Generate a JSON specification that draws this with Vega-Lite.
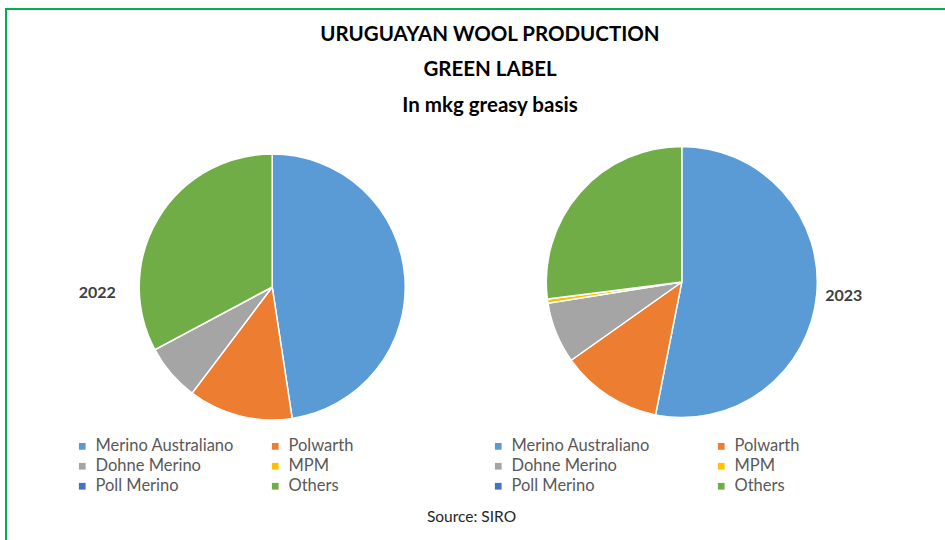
{
  "$schema": "https://vega.github.io/schema/vega-lite/v6.json",
  "width": 945,
  "height": 540,
  "autosize": {"type": "fit", "contains": "padding"},
  "padding": {"left": 6, "top": 9, "right": -3, "bottom": -3},
  "background": "white",
  "title": {
    "text": ["URUGUAYAN WOOL PRODUCTION", "GREEN LABEL", "In mkg greasy basis"],
    "font": "Lato",
    "fontSize": 20.5,
    "fontWeight": "bold",
    "color": "#000000",
    "lineHeight": 35.5,
    "anchor": "middle",
    "offset": -107,
    "dx": 13
  },
  "config": {
    "view": {"stroke": "#00B050", "strokeWidth": 2},
    "font": "Lato"
  },
  "data": {
    "values": [
      {"year": 2022, "breed": "Merino Australiano", "order": 1, "value": 47.6},
      {"year": 2022, "breed": "Polwarth", "order": 2, "value": 12.7},
      {"year": 2022, "breed": "Dohne Merino", "order": 3, "value": 6.9},
      {"year": 2022, "breed": "MPM", "order": 4, "value": 0},
      {"year": 2022, "breed": "Poll Merino", "order": 5, "value": 0},
      {"year": 2022, "breed": "Others", "order": 6, "value": 32.8},
      {"year": 2023, "breed": "Merino Australiano", "order": 1, "value": 53.1},
      {"year": 2023, "breed": "Polwarth", "order": 2, "value": 12.1},
      {"year": 2023, "breed": "Dohne Merino", "order": 3, "value": 7.3},
      {"year": 2023, "breed": "MPM", "order": 4, "value": 0.5},
      {"year": 2023, "breed": "Poll Merino", "order": 5, "value": 0},
      {"year": 2023, "breed": "Others", "order": 6, "value": 27.0}
    ]
  },
  "encoding": {
    "x": {
      "field": "year",
      "type": "ordinal",
      "scale": {"type": "point", "domain": [2022, 2023], "padding": 0.65, "align": 0.5},
      "axis": {
        "title": "Source: SIRO",
        "labels": false,
        "ticks": false,
        "domain": false,
        "grid": false,
        "titleY": -27,
        "titleX": 465,
        "titleAlign": "center",
        "titleBaseline": "middle",
        "titleFont": "Lato",
        "titleFontSize": 15.5,
        "titleFontWeight": "normal",
        "titleColor": "#262626"
      }
    }
  },
  "layer": [
    {
      "transform": [{"filter": "datum.year == 2022"}],
      "mark": {"type": "arc", "outerRadius": 133, "stroke": "white", "strokeWidth": 1.5, "yOffset": 11},
      "encoding": {
        "theta": {"field": "value", "type": "quantitative", "stack": true},
        "order": {"field": "order", "type": "quantitative"},
        "color": {
          "field": "breed",
          "type": "nominal",
          "scale": {
            "domain": ["Merino Australiano", "Polwarth", "Dohne Merino", "MPM", "Poll Merino", "Others"],
            "range": ["#5B9BD5", "#ED7D31", "#A5A5A5", "#FFC000", "#4472C4", "#70AD47"]
          },
          "legend": {
            "orient": "none",
            "direction": "horizontal",
            "legendX": 68,
            "legendY": 429,
            "padding": 0,
            "columns": 2,
            "columnPadding": 33,
            "rowPadding": 3,
            "title": null,
            "symbolType": "square",
            "symbolSize": 45,
            "symbolStrokeWidth": 0,
            "labelFont": "Lato",
            "labelFontSize": 16.5,
            "labelColor": "#595959",
            "labelOffset": 5
          }
        }
      }
    },
    {
      "transform": [{"filter": "datum.year == 2023"}],
      "mark": {"type": "arc", "outerRadius": 135.5, "stroke": "white", "strokeWidth": 1.5, "yOffset": 6},
      "encoding": {
        "theta": {"field": "value", "type": "quantitative", "stack": true},
        "order": {"field": "order", "type": "quantitative"},
        "color": {
          "field": "breed",
          "type": "nominal",
          "scale": {
            "domain": ["Merino Australiano", "Polwarth", "Dohne Merino", "MPM", "Poll Merino", "Others"],
            "range": ["#5B9BD5", "#ED7D31", "#A5A5A5", "#FFC000", "#4472C4", "#70AD47"]
          },
          "legend": {
            "orient": "none",
            "direction": "horizontal",
            "legendX": 484,
            "legendY": 429,
            "padding": 0,
            "columns": 2,
            "columnPadding": 63,
            "rowPadding": 3,
            "title": null,
            "symbolType": "square",
            "symbolSize": 45,
            "symbolStrokeWidth": 0,
            "labelFont": "Lato",
            "labelFontSize": 16.5,
            "labelColor": "#595959",
            "labelOffset": 5
          }
        }
      }
    },
    {
      "transform": [
        {"filter": "datum.year == 2022"},
        {"aggregate": [{"op": "sum", "field": "value", "as": "total"}], "groupby": ["year"]}
      ],
      "mark": {"type": "text", "font": "Lato", "fontSize": 16, "fontWeight": "bold", "color": "#404040", "dx": -175, "dy": 17, "baseline": "middle", "align": "center"},
      "encoding": {"text": {"field": "year", "type": "ordinal"}}
    },
    {
      "transform": [
        {"filter": "datum.year == 2023"},
        {"aggregate": [{"op": "sum", "field": "value", "as": "total"}], "groupby": ["year"]}
      ],
      "mark": {"type": "text", "font": "Lato", "fontSize": 16, "fontWeight": "bold", "color": "#404040", "dx": 162, "dy": 20, "baseline": "middle", "align": "center"},
      "encoding": {"text": {"field": "year", "type": "ordinal"}}
    }
  ],
  "resolve": {"scale": {"color": "independent"}}
}
